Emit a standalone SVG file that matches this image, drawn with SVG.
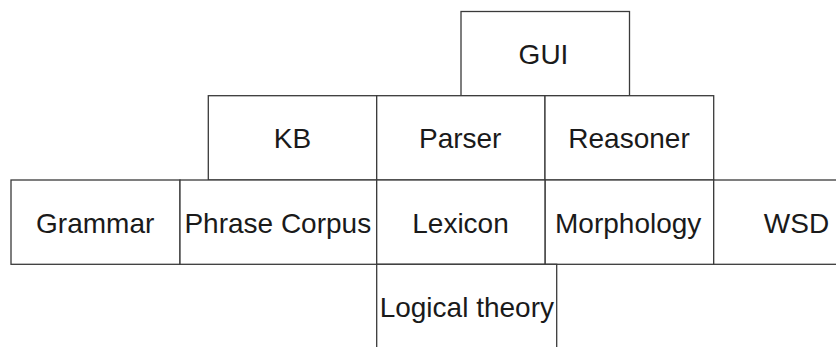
<svg xmlns="http://www.w3.org/2000/svg" width="836" height="347" viewBox="0 0 836 347">
<style>
.box{fill:#ffffff;stroke:#3a3a3a;stroke-width:1.3}
.lbl{font-family:"Liberation Sans",Arial,sans-serif;font-size:28px;fill:#1a1a1a;text-anchor:middle}
</style>
<rect x="0" y="0" width="836" height="347" fill="#ffffff"/>
<g id="nodes">
<g id="gui"><rect class="box" x="461" y="11.5" width="168.5" height="84.2"/><text class="lbl" x="543.5" y="63.5">GUI</text></g>
<g id="kb"><rect class="box" x="208.3" y="95.7" width="168.4" height="84.3"/><text class="lbl" x="292.5" y="147.5">KB</text></g>
<g id="parser"><rect class="box" x="376.7" y="95.7" width="168.3" height="84.3"/><text class="lbl" x="460.2" y="147.5">Parser</text></g>
<g id="reasoner"><rect class="box" x="545" y="95.7" width="168.7" height="84.3"/><text class="lbl" x="629" y="147.5">Reasoner</text></g>
<g id="grammar"><rect class="box" x="11" y="180" width="169" height="84.3"/><text class="lbl" x="95.2" y="232.5">Grammar</text></g>
<g id="phrase-corpus"><rect class="box" x="180" y="180" width="196.7" height="84.3"/><text class="lbl" x="277.8" y="232.5">Phrase Corpus</text></g>
<g id="lexicon"><rect class="box" x="376.7" y="180" width="168.5" height="84.3"/><text class="lbl" x="460.5" y="232.5">Lexicon</text></g>
<g id="morphology"><rect class="box" x="545.2" y="180" width="168.5" height="84.3"/><text class="lbl" x="628.2" y="232.5">Morphology</text></g>
<g id="wsd"><rect class="box" x="713.7" y="180" width="170" height="84.3"/><text class="lbl" x="796.5" y="232.5">WSD</text></g>
<g id="logical-theory"><rect class="box" x="376.7" y="264.3" width="180" height="84"/><text class="lbl" x="466.8" y="316.7">Logical theory</text></g>
</g>
<g id="connectors"></g>
</svg>
